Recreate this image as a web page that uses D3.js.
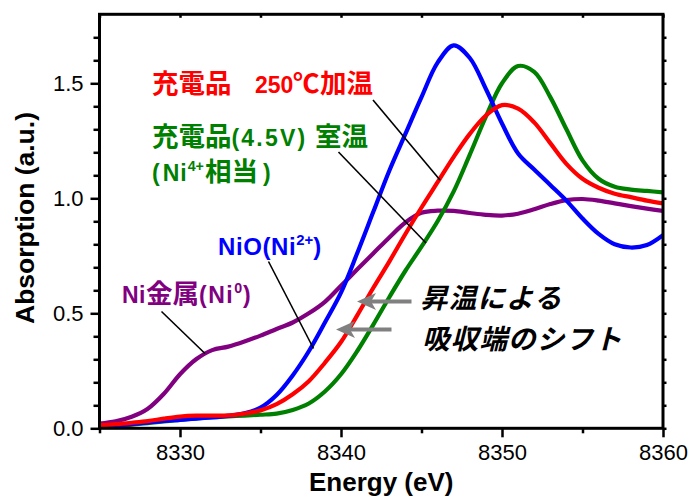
<!DOCTYPE html>
<html><head><meta charset="utf-8">
<script src="https://cdn.jsdelivr.net/npm/d3@7/dist/d3.min.js"></script>
<style>
html,body{margin:0;padding:0;background:#fff;}
svg{display:block;}
</style></head>
<body>
<svg id="chart" width="693" height="498"></svg>
<script>
// ---- data ----
const energies = d3.range(8325, 8361, 1);
const niMetal = [0.02,0.03,0.05,0.085,0.15,0.235,0.30,0.34,0.355,0.377,0.403,0.432,0.46,0.50,0.55,0.62,0.69,0.76,0.83,0.895,0.937,0.946,0.945,0.936,0.928,0.925,0.933,0.952,0.975,0.992,0.997,0.99,0.978,0.966,0.955,0.945];
const nio = [0.008,0.012,0.018,0.025,0.032,0.037,0.042,0.047,0.054,0.065,0.09,0.145,0.23,0.335,0.46,0.59,0.76,0.94,1.12,1.28,1.44,1.59,1.665,1.61,1.475,1.325,1.195,1.125,1.058,0.99,0.912,0.845,0.80,0.786,0.797,0.84];
const charged250 = [0.014,0.018,0.024,0.031,0.042,0.051,0.055,0.055,0.056,0.064,0.078,0.105,0.148,0.205,0.285,0.375,0.49,0.61,0.725,0.845,0.96,1.07,1.18,1.28,1.36,1.405,1.39,1.33,1.24,1.15,1.085,1.046,1.02,1.005,0.99,0.978];
const chargedRT = [0.008,0.011,0.016,0.022,0.03,0.037,0.043,0.048,0.052,0.055,0.059,0.064,0.08,0.108,0.16,0.235,0.335,0.45,0.57,0.685,0.79,0.90,1.03,1.19,1.355,1.50,1.575,1.55,1.44,1.30,1.165,1.085,1.05,1.038,1.032,1.026];
const xMajor = [8330, 8340, 8350, 8360];
const xMinor = [8325, 8335, 8345, 8355];
const yMajor = [0.0, 0.5, 1.0, 1.5];
const yMinor = [0.1,0.2,0.3,0.4,0.6,0.7,0.8,0.9,1.1,1.2,1.3,1.4,1.6,1.7];
const yAll = d3.range(0, 18).map(d => d / 10);
const xAll = [8325,8330,8335,8340,8345,8350,8355,8360];
const noteLines = ["昇温による", "吸収端のシフト"];

const series = [
  {name: "Ni金属", values: niMetal, color: "#800080"},
  {name: "充電品(4.5V) 室温", values: chargedRT, color: "#008000"},
  {name: "NiO", values: nio, color: "#0000ff"},
  {name: "充電品 250℃加温", values: charged250, color: "#ff0000"}
];

// ---- layout ----
const svg = d3.select("#chart");
const L = 99.5, R = 663, T = 14.3, B = 428.3;
const x = d3.scaleLinear().domain([8325, 8360]).range([L, R]);
const y = d3.scaleLinear().domain([0, 1.8]).range([B, T]);
const latin = "'Liberation Sans', Arial, 'Noto Sans CJK JP', sans-serif";
const cjk = "'Noto Sans CJK JP', sans-serif";

svg.append("defs").append("clipPath").attr("id", "clip")
  .append("rect").attr("x", L).attr("y", T).attr("width", R - L).attr("height", B - T);

// curves
const line = d3.line().x((d, i) => x(energies[i])).y(d => y(d)).curve(d3.curveCatmullRom.alpha(0.5));
svg.append("g").attr("clip-path", "url(#clip)")
  .selectAll("path").data(series).join("path")
  .attr("d", d => line(d.values))
  .attr("fill", "none").attr("stroke", d => d.color)
  .attr("stroke-width", 4.2).attr("stroke-linejoin", "round").attr("stroke-linecap", "round");

// axes
function styleAxis(g, labels) {
  g.select(".domain").remove();
  g.selectAll(".tick line").attr("stroke", "#000").attr("stroke-width", 2.5);
  g.selectAll(".tick text").attr("font-family", latin).attr("font-size", 22).attr("fill", "#000");
  if (!labels) g.selectAll(".tick text").remove();
}
svg.append("g").attr("transform", `translate(0,${B})`)
  .call(d3.axisBottom(x).tickValues(xMajor).tickSize(9).tickPadding(7.5).tickFormat(d3.format("d")))
  .call(g => styleAxis(g, true));
svg.append("g").attr("transform", `translate(0,${B})`)
  .call(d3.axisBottom(x).tickValues(xMinor).tickSize(5))
  .call(g => styleAxis(g, false));
svg.append("g").attr("transform", `translate(${L},0)`)
  .call(d3.axisLeft(y).tickValues(yMajor).tickSize(9).tickPadding(7).tickFormat(d3.format(".1f")))
  .call(g => styleAxis(g, true));
svg.append("g").attr("transform", `translate(${L},0)`)
  .call(d3.axisLeft(y).tickValues(yMinor).tickSize(6))
  .call(g => styleAxis(g, false));
svg.append("g").attr("transform", `translate(${R},0)`)
  .call(d3.axisRight(y).tickValues(yAll).tickSize(3.5))
  .call(g => styleAxis(g, false));
svg.append("g").attr("transform", `translate(0,${T})`)
  .call(d3.axisBottom(x).tickValues(xAll).tickSize(3.5))
  .call(g => styleAxis(g, false));

// frame
svg.append("rect").attr("x", L).attr("y", T).attr("width", R - L).attr("height", B - T)
  .attr("fill", "none").attr("stroke", "#000").attr("stroke-width", 3);

// axis titles
svg.append("text").attr("x", (L + R) / 2).attr("y", 491).attr("text-anchor", "middle")
  .attr("font-family", latin).attr("font-weight", "bold").attr("font-size", 26).text("Energy (eV)");
svg.append("text").attr("transform", "translate(34,218) rotate(-90)").attr("text-anchor", "middle")
  .attr("font-family", latin).attr("font-weight", "bold").attr("font-size", 26.5).text("Absorption (a.u.)");

// leader lines
const leaders = [
  [373, 100, 440, 180],
  [338.5, 152, 426, 243],
  [268.5, 261.5, 313.5, 348.5],
  [161.5, 311.5, 205, 353.5]
];
svg.append("g").selectAll("line").data(leaders).join("line")
  .attr("x1", d => d[0]).attr("y1", d => d[1]).attr("x2", d => d[2]).attr("y2", d => d[3])
  .attr("stroke", "#000").attr("stroke-width", 1.6);

// labels: parts {t, x, cjk, sup, after, ls}
function label(yp, color, parts, size) {
  const t = svg.append("text").attr("y", yp)
    .attr("font-family", latin).attr("font-weight", "bold").attr("font-size", size).attr("fill", color);
  parts.forEach(p => {
    const ts = t.append("tspan").text(p.t);
    if (p.x !== undefined) ts.attr("x", p.x);
    if (p.cjk) ts.attr("font-family", cjk).attr("font-size", 26.5);
    if (p.ls) ts.attr("letter-spacing", p.ls);
    if (p.sup) ts.attr("font-size", size * 0.62).attr("dy", -size * 0.42);
    if (p.after) ts.attr("dy", size * 0.42);
  });
  return t;
}
label(93, "#ff0000", [{t: "充電品", x: 152, cjk: true}, {t: "250", x: 255}, {t: "℃", x: 293, cjk: true}, {t: "加温", x: 320, cjk: true}], 23);
label(146, "#008000", [{t: "充電品", x: 152, cjk: true}, {t: "(4.5V)", ls: 2.2}, {t: "室温", x: 315, cjk: true}], 23);
label(181, "#008000", [{t: "(", x: 152, ls: 3}, {t: "Ni", ls: 1}, {t: "4+", sup: true}, {t: "相当", x: 205, cjk: true, after: true}, {t: ")", x: 263}], 23);
label(255, "#0000ff", [{t: "NiO(Ni", x: 218, ls: 0.6}, {t: "2+", sup: true}, {t: ")", after: true}], 24);
label(303, "#800080", [{t: "Ni", x: 122, ls: 0.5}, {t: "金属", cjk: true}, {t: "(Ni", ls: 1.5}, {t: "0", sup: true, ls: 1}, {t: ")", after: true}], 23);

// two-line italic note
const note = svg.append("text").attr("y", 308)
  .attr("font-family", cjk).attr("font-weight", "bold")
  .attr("font-style", "italic").attr("font-size", 27.5).attr("letter-spacing", 1.2);
note.append("tspan").attr("x", 420).text(noteLines[0]);
note.append("tspan").attr("x", 422).attr("dy", 40.5).text(noteLines[1]);

// gray arrows
const arrows = [
  [411.5, 301.5, 357, 301.5],
  [391.5, 329.5, 336, 329.5]
];
const ag = svg.append("g");
arrows.forEach(a => {
  ag.append("line").attr("x1", a[0]).attr("y1", a[1]).attr("x2", a[2] + 10).attr("y2", a[3])
    .attr("stroke", "#808080").attr("stroke-width", 4);
  const tx = a[2], ty = a[3];
  ag.append("path")
    .attr("d", `M${tx},${ty} L${tx + 19},${ty - 8.5} L${tx + 14},${ty} L${tx + 19},${ty + 8.5} Z`)
    .attr("fill", "#808080");
});
</script>
</body></html>
